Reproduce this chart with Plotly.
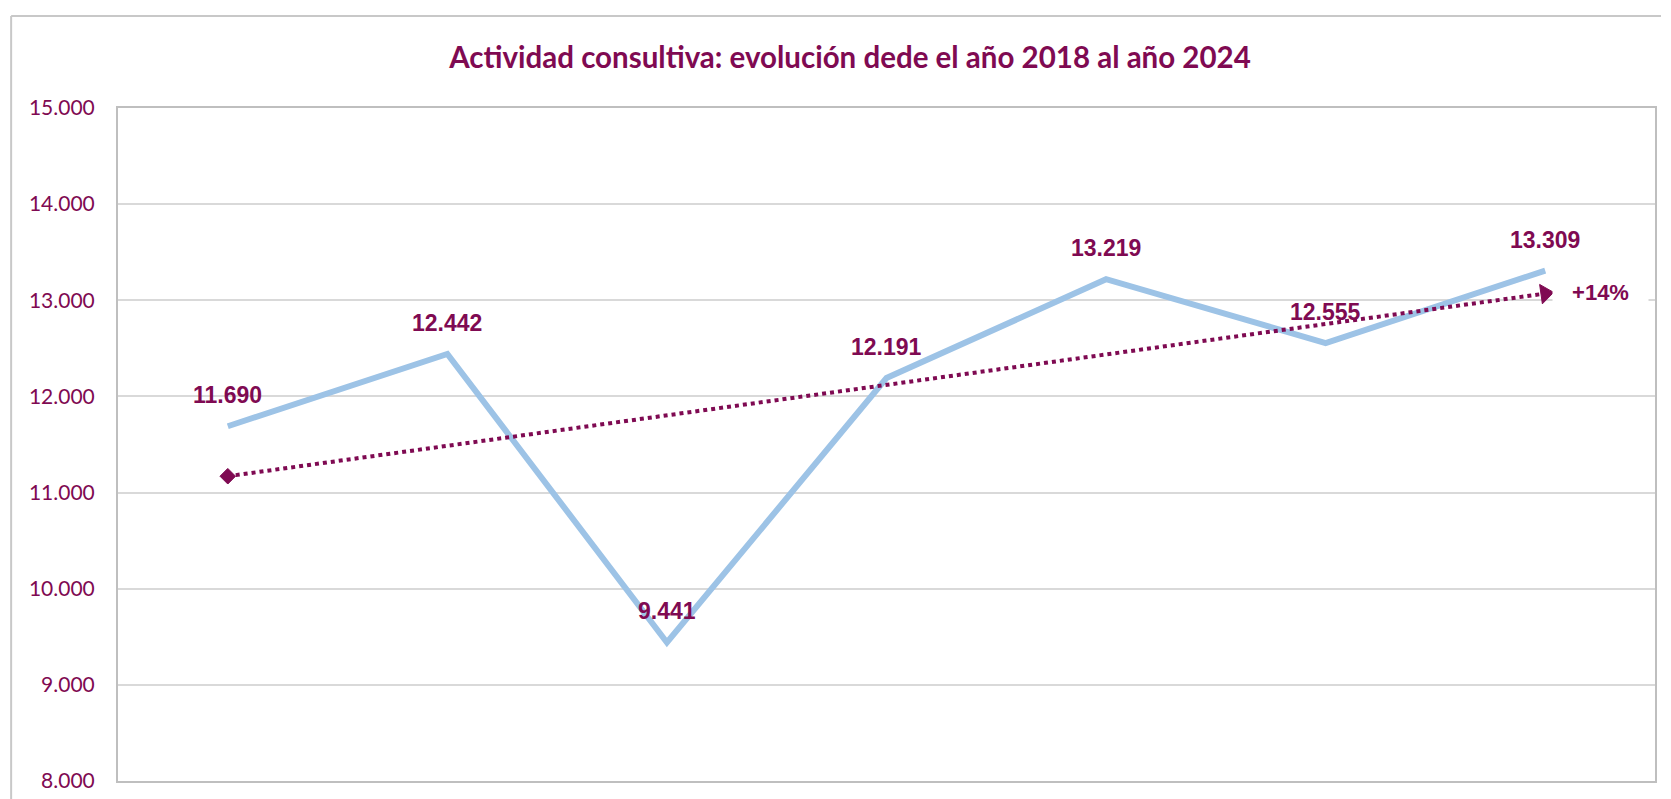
import plotly.graph_objects as go

# ---- data ----
years = ["2018", "2019", "2020", "2021", "2022", "2023", "2024"]
values = [11690, 12442, 9441, 12191, 13219, 12555, 13309]
value_labels = ["11.690", "12.442", "9.441", "12.191", "13.219", "12.555", "13.309"]
trend_years = ["2018", "2024"]
trend_values = [11170, 13070]
trend_label = "+14%"
y_tickvals = [8000, 9000, 10000, 11000, 12000, 13000, 14000, 15000]
y_ticktext = ["8.000", "9.000", "10.000", "11.000", "12.000", "13.000", "14.000", "15.000"]
title_text = "Actividad consultiva: evolución dede el año 2018 al año 2024"

PURPLE = "#7F0A52"
BLUE = "#9DC3E6"

OFF = 8  # default body margin of the html page
W, H = 1655, 791
ML = 118 - OFF
MT = 108 - OFF
MR = OFF + W - 1657
MB = OFF + H - 781
PW, PH = W - ML - MR, H - MT - MB

fig = go.Figure()

fig.add_trace(go.Scatter(
    x=years, y=values, mode="lines",
    line=dict(color=BLUE, width=6),
    hoverinfo="skip", showlegend=False,
))

fig.add_trace(go.Scatter(
    x=trend_years, y=trend_values, mode="lines",
    line=dict(color=PURPLE, width=4, dash="dot"),
    hoverinfo="skip", showlegend=False,
))
fig.add_trace(go.Scatter(
    x=trend_years, y=trend_values, mode="markers",
    marker=dict(symbol=["diamond", "triangle-right"], size=[12, 17],
                angle=[0, -8], color=PURPLE, opacity=1,
                line=dict(width=1, color=PURPLE)),
    hoverinfo="skip", showlegend=False,
))

annotations = []
for i, (y, t) in enumerate(zip(values, value_labels)):
    annotations.append(dict(
        x=i, y=y, xref="x", yref="y", text="<b>" + t + "</b>", showarrow=False,
        yshift=31, xanchor="center", yanchor="middle",
        font=dict(family="Liberation Sans", size=23, color=PURPLE),
    ))
annotations.append(dict(
    x=len(years) - 1, y=trend_values[-1], xref="x", yref="y",
    text="<b>" + trend_label + "</b>",
    showarrow=False, xshift=55, yshift=1, xanchor="center", yanchor="middle",
    width=87, bgcolor="white", borderpad=4,
    font=dict(family="Liberation Sans", size=22, color=PURPLE),
))

# outer chart border (left and top edges visible; it continues past the window)
x_left = (11 - 118) / PW
y_top = (781 - 16) / PH
x_right = (OFF + W - 118) / PW
y_bottom = -(OFF + H - 781) / PH
shapes = [
    dict(type="line", xref="paper", yref="paper", x0=x_left, x1=x_left,
         y0=y_bottom, y1=y_top, line=dict(color="#C8C8C8", width=2)),
    dict(type="line", xref="paper", yref="paper", x0=x_left, x1=x_right,
         y0=y_top, y1=y_top, line=dict(color="#C8C8C8", width=2)),
]

fig.update_layout(
    width=W, height=H,
    margin=dict(l=ML, r=MR, t=MT, b=MB),
    paper_bgcolor="white", plot_bgcolor="white",
    title=dict(text="<b>" + title_text + "</b>", x=(850 - OFF) / W, xanchor="center",
               y=1 - (58 - OFF) / H, yanchor="middle",
               font=dict(family="Lato", size=29.5, color=PURPLE)),
    annotations=annotations,
    shapes=shapes,
    xaxis=dict(type="category", range=[-0.5, 6.5], showticklabels=False,
               showgrid=False, zeroline=False, ticks="",
               showline=True, mirror=True, linecolor="#BFBFBF", linewidth=2),
    yaxis=dict(range=[8000, 15000], tickvals=y_tickvals, ticktext=y_ticktext,
               showgrid=True, gridcolor="#D9D9D9", gridwidth=1.5, zeroline=False,
               showline=True, mirror=True, linecolor="#BFBFBF", linewidth=2,
               ticks="", ticklabelstandoff=17,
               tickfont=dict(family="Lato", size=21, color=PURPLE)),
)

fig.write_html("out.html")
